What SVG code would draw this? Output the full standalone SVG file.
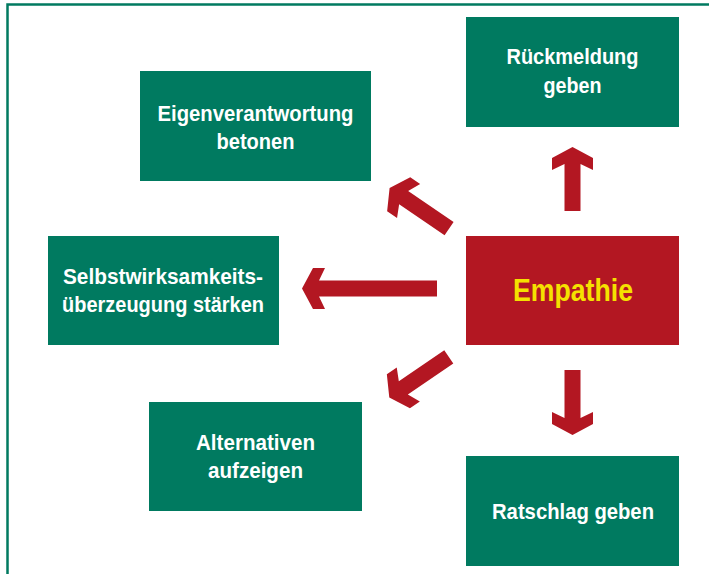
<svg xmlns="http://www.w3.org/2000/svg" width="709" height="574" viewBox="0 0 709 574">
<defs>
<style>
.box{fill:#007A60}
.hub{fill:#B31722}
.t{font-family:"Liberation Sans",Arial,sans-serif;font-weight:bold;font-size:22.5px;fill:#FFFFFF;text-anchor:middle}
.te{font-family:"Liberation Sans",Arial,sans-serif;font-weight:bold;font-size:31px;fill:#F5E100;text-anchor:middle}
.arr{fill:#B31722}
</style>
</defs>
<rect width="709" height="574" fill="#FFFFFF"/>
<path d="M7.5,574 V4.5 H709" fill="none" stroke="#007A60" stroke-width="2.5"/>
<g id="connectors">
<path class="arr" transform="translate(572.5,147) rotate(90)" d="M0,0 L11,-20.5 L23,-20.5 L17,-8 L64,-8 L64,8 L17,8 L23,20.5 L11,20.5 Z"/>
<path class="arr" transform="translate(572.5,435) rotate(-90)" d="M0,0 L11,-20.5 L23,-20.5 L17,-8 L65,-8 L65,8 L17,8 L23,20.5 L11,20.5 Z"/>
<path class="arr" transform="translate(302,288.5)" d="M0,0 L11,-20.5 L23,-20.5 L17,-8 L135,-8 L135,8 L17,8 L23,20.5 L11,20.5 Z"/>
<path class="arr" transform="translate(389.6,188) rotate(34.3)" d="M0,0 L11,-20.5 L23,-20.5 L17,-8 L72,-8 L72,8 L17,8 L23,20.5 L11,20.5 Z"/>
<path class="arr" transform="translate(389.3,397.5) rotate(-34.3)" d="M0,0 L11,-20.5 L23,-20.5 L17,-8 L72,-8 L72,8 L17,8 L23,20.5 L11,20.5 Z"/>
</g>
<g id="rueckmeldung">
<rect class="box" x="466" y="17" width="213" height="110"/>
<text class="t" x="572.5" y="64" textLength="132" lengthAdjust="spacingAndGlyphs">Rückmeldung</text>
<text class="t" x="572.5" y="92.5" textLength="58" lengthAdjust="spacingAndGlyphs">geben</text>
</g>
<g id="eigenverantwortung">
<rect class="box" x="140" y="71" width="231" height="110"/>
<text class="t" x="255.5" y="121" textLength="196" lengthAdjust="spacingAndGlyphs">Eigenverantwortung</text>
<text class="t" x="255.5" y="148.5" textLength="78" lengthAdjust="spacingAndGlyphs">betonen</text>
</g>
<g id="selbstwirksamkeit">
<rect class="box" x="48" y="236" width="231" height="109"/>
<text class="t" x="163" y="283.5" textLength="200" lengthAdjust="spacingAndGlyphs">Selbstwirksamkeits-</text>
<text class="t" x="163" y="311.5" textLength="202" lengthAdjust="spacingAndGlyphs">überzeugung stärken</text>
</g>
<g id="empathie">
<rect class="hub" x="466" y="236" width="213" height="109"/>
<text class="te" x="573" y="301" textLength="120" lengthAdjust="spacingAndGlyphs">Empathie</text>
</g>
<g id="alternativen">
<rect class="box" x="149" y="402" width="213" height="109"/>
<text class="t" x="255.5" y="449.5" textLength="119" lengthAdjust="spacingAndGlyphs">Alternativen</text>
<text class="t" x="255.5" y="477.5" textLength="95" lengthAdjust="spacingAndGlyphs">aufzeigen</text>
</g>
<g id="ratschlag">
<rect class="box" x="466" y="456" width="213" height="110"/>
<text class="t" x="573" y="518.5" textLength="162" lengthAdjust="spacingAndGlyphs">Ratschlag geben</text>
</g>
</svg>
